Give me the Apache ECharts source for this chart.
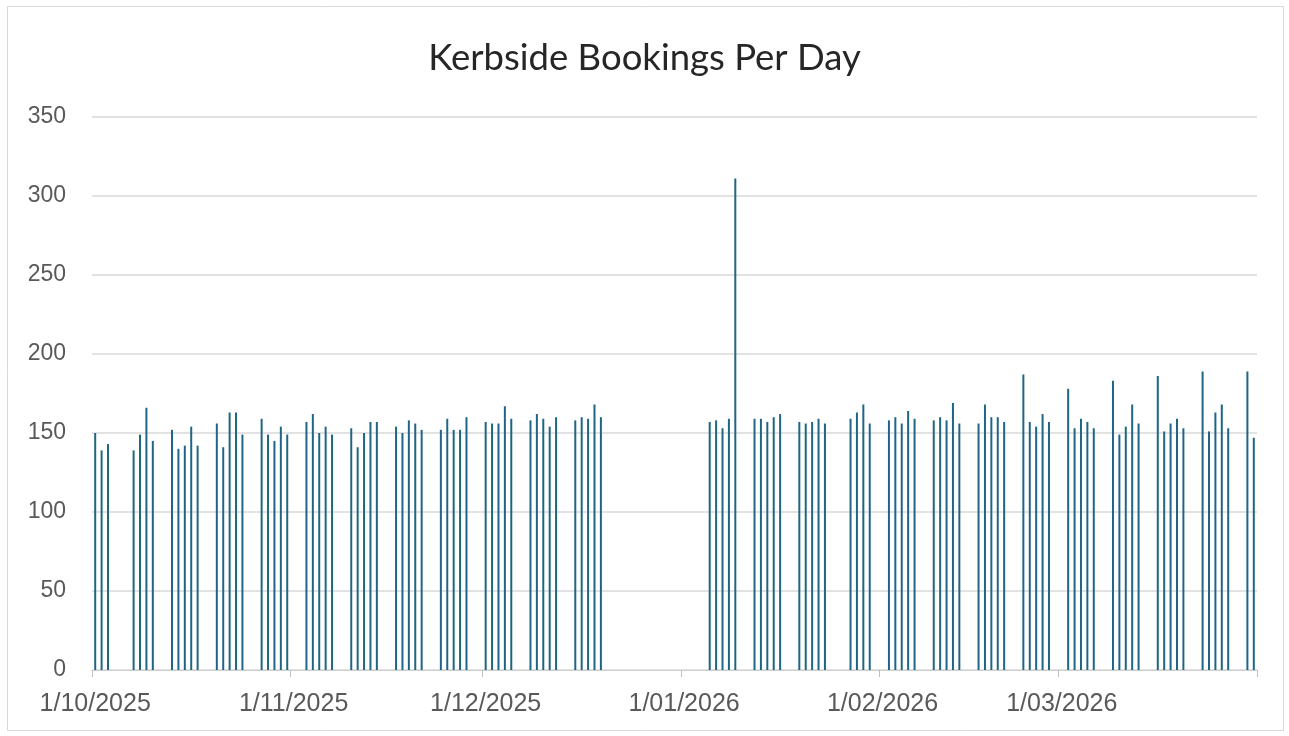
<!DOCTYPE html>
<html>
<head>
<meta charset="utf-8">
<script src="https://cdn.jsdelivr.net/npm/echarts@6/dist/echarts.min.js"></script>
<style>
html,body{margin:0;padding:0;background:#fff;}
#chart{width:1289px;height:736px;}
</style>
</head>
<body>
<div id="chart"></div>
<script>
// Axis range (one category per calendar day)
var axisStart = '2025-10-01';
var axisEnd = '2026-03-31';

// Booking days and their values (weekdays with data)
var bookingDates = [
  '2025-10-01','2025-10-02','2025-10-03',
  '2025-10-07','2025-10-08','2025-10-09','2025-10-10',
  '2025-10-13','2025-10-14','2025-10-15','2025-10-16','2025-10-17',
  '2025-10-20','2025-10-21','2025-10-22','2025-10-23','2025-10-24',
  '2025-10-27','2025-10-28','2025-10-29','2025-10-30','2025-10-31',
  '2025-11-03','2025-11-04','2025-11-05','2025-11-06','2025-11-07',
  '2025-11-10','2025-11-11','2025-11-12','2025-11-13','2025-11-14',
  '2025-11-17','2025-11-18','2025-11-19','2025-11-20','2025-11-21',
  '2025-11-24','2025-11-25','2025-11-26','2025-11-27','2025-11-28',
  '2025-12-01','2025-12-02','2025-12-03','2025-12-04','2025-12-05',
  '2025-12-08','2025-12-09','2025-12-10','2025-12-11','2025-12-12',
  '2025-12-15','2025-12-16','2025-12-17','2025-12-18','2025-12-19',
  '2026-01-05','2026-01-06','2026-01-07','2026-01-08','2026-01-09',
  '2026-01-12','2026-01-13','2026-01-14','2026-01-15','2026-01-16',
  '2026-01-19','2026-01-20','2026-01-21','2026-01-22','2026-01-23',
  '2026-01-27','2026-01-28','2026-01-29','2026-01-30',
  '2026-02-02','2026-02-03','2026-02-04','2026-02-05','2026-02-06',
  '2026-02-09','2026-02-10','2026-02-11','2026-02-12','2026-02-13',
  '2026-02-16','2026-02-17','2026-02-18','2026-02-19','2026-02-20',
  '2026-02-23','2026-02-24','2026-02-25','2026-02-26','2026-02-27',
  '2026-03-02','2026-03-03','2026-03-04','2026-03-05','2026-03-06',
  '2026-03-09','2026-03-10','2026-03-11','2026-03-12','2026-03-13',
  '2026-03-16','2026-03-17','2026-03-18','2026-03-19','2026-03-20',
  '2026-03-23','2026-03-24','2026-03-25','2026-03-26','2026-03-27',
  '2026-03-30','2026-03-31'
];
var bookingValues = [
  150,139,143,
  139,149,166,145,
  152,140,142,154,142,
  156,141,163,163,149,
  159,149,145,154,149,
  157,162,150,154,149,
  153,141,150,157,157,
  154,150,158,156,152,
  152,159,152,152,160,
  157,156,156,167,159,
  158,162,159,154,160,
  158,160,159,168,160,
  157,158,153,159,311,
  159,159,157,160,162,
  157,156,157,159,156,
  159,163,168,156,
  158,160,156,164,159,
  158,160,158,169,156,
  156,168,160,160,157,
  187,157,154,162,157,
  178,153,159,157,153,
  183,149,154,168,156,
  186,151,156,159,153,
  189,151,163,168,153,
  189,147
];

var yTicks = [0, 50, 100, 150, 200, 250, 300, 350];

// Build the day categories
function pad(n){ return (n < 10 ? '0' : '') + n; }
var categories = [];
(function(){
  var d = new Date(axisStart + 'T00:00:00Z');
  var end = new Date(axisEnd + 'T00:00:00Z');
  while (d <= end) {
    categories.push(d.getUTCFullYear() + '-' + pad(d.getUTCMonth() + 1) + '-' + pad(d.getUTCDate()));
    d = new Date(d.getTime() + 86400000);
  }
})();
var lookup = {};
bookingDates.forEach(function(dt, i){ lookup[dt] = bookingValues[i]; });
var seriesData = categories.map(function(c){ return lookup.hasOwnProperty(c) ? lookup[c] : '-'; });

function isMonthStart(idx, val){ return val.slice(8, 10) === '01'; }
function fmt(val){
  var p = val.split('-');
  return parseInt(p[2], 10) + '/' + p[1] + '/' + p[0];
}

var chart = echarts.init(document.getElementById('chart'), null, {renderer: 'canvas'});
chart.setOption({
  backgroundColor: '#ffffff',
  animation: false,
  title: {
    text: 'Kerbside Bookings Per Day',
    left: 'center',
    top: 35,
    textStyle: {fontFamily: 'Lato', fontSize: 36.5, fontWeight: 'normal', color: '#262626'}
  },
  graphic: [{
    type: 'rect',
    shape: {x: 7.5, y: 6.5, width: 1276, height: 724},
    style: {fill: 'none', stroke: '#d9d9d9', lineWidth: 1},
    silent: true, z: -1
  }],
  grid: {left: 92, right: 32, top: 117, bottom: 66, containLabel: false},
  xAxis: {
    type: 'category',
    data: categories,
    boundaryGap: true,
    axisLine: {lineStyle: {color: '#d0d0d0', width: 1}},
    axisTick: {show: true, interval: isMonthStart, length: 7, lineStyle: {color: '#bfbfbf'}},
    axisLabel: {
      interval: isMonthStart,
      formatter: fmt,
      margin: 22,
      fontFamily: 'Liberation Sans',
      fontSize: 25,
      color: '#595959'
    },
    splitLine: {show: false}
  },
  yAxis: {
    type: 'value',
    min: 0, max: 350, interval: 50,
    axisLine: {show: false},
    axisTick: {show: false},
    axisLabel: {
      margin: 26,
      fontFamily: 'Liberation Sans',
      fontSize: 23,
      color: '#595959',
      formatter: function(v){ return yTicks.indexOf(v) >= 0 ? String(v) : ''; }
    },
    splitLine: {lineStyle: {color: '#d9d9d9', width: 1.5}}
  },
  series: [{
    name: 'Bookings',
    type: 'bar',
    data: seriesData,
    barWidth: 2,
    itemStyle: {color: '#1f6585'}
  }]
});
</script>
</body>
</html>
